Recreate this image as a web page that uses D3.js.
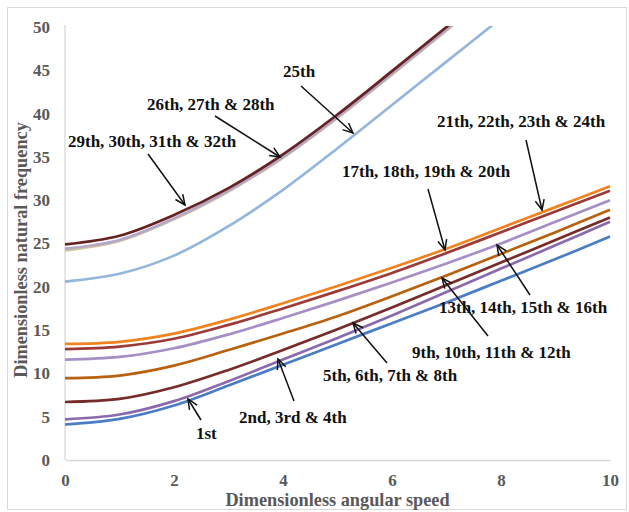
<!DOCTYPE html>
<html><head><meta charset="utf-8">
<script src="https://cdn.jsdelivr.net/npm/d3@7/dist/d3.min.js"></script>
<style>body{margin:0;background:#fff}svg{display:block}</style>
</head><body>
<svg id="c" width="629" height="512"></svg>
<script>
const xs = [0,1,2,3,4,5,6,7,8,9,10];
const xsUp = [0,1,2,3,4,5,6,7,8];
const s1 = [4.1,4.75,6.3,8.6,11.0,13.4,15.8,18.2,20.7,23.2,25.8];
const s2to4 = [4.7,5.25,6.8,9.1,11.6,14.1,16.7,19.4,22.1,24.8,27.5];
const s5to8 = [6.7,7.05,8.4,10.4,12.7,15.1,17.6,20.2,22.8,25.4,28.0];
const s9to12 = [9.45,9.75,10.9,12.7,14.6,16.6,18.9,21.3,23.8,26.3,28.9];
const s13to16 = [11.6,11.9,12.9,14.5,16.4,18.4,20.5,22.7,25.0,27.5,30.0];
const s17to20 = [12.8,13.1,14.0,15.6,17.5,19.5,21.6,23.9,26.3,28.7,31.1];
const s21to24 = [13.4,13.65,14.6,16.2,18.1,20.1,22.2,24.4,26.8,29.2,31.6];
const s25 = [20.6,21.5,23.6,27.0,31.2,36.0,41.0,46.0,51.0];
const s26to28 = [24.4,25.4,27.9,31.1,35.0,39.6,44.6,49.7,54.9];
const s26olive = [24.2,25.3,27.8,31.0,34.9,39.5,44.5,49.6,54.8];
const s29to32 = [24.9,25.9,28.3,31.4,35.3,39.9,44.9,50.0,55.2];
const xTicks = [0,2,4,6,8,10];
const yTicks = [0,5,10,15,20,25,30,35,40,45,50];
const series = [
  {x: xs, y: s1, c: "#4a7dc4"},
  {x: xs, y: s2to4, c: "#8a6aad"},
  {x: xs, y: s5to8, c: "#772c2a"},
  {x: xs, y: s9to12, c: "#b8620f"},
  {x: xs, y: s13to16, c: "#a58fc6"},
  {x: xs, y: s17to20, c: "#9c3a38"},
  {x: xs, y: s21to24, c: "#f0831f"},
  {x: xsUp, y: s25, c: "#95b6dc"},
  {x: xsUp, y: s26olive, c: "#cfc79a"},
  {x: xsUp, y: s26to28, c: "#b6a6c9"},
  {x: xsUp, y: s29to32, c: "#662222"}
];
const notes = [
  {t:"25th", tx:283, ty:77, a:[301,86], b:[353,133]},
  {t:"26th, 27th & 28th", tx:147, ty:110, a:[215,116], b:[280,157]},
  {t:"29th, 30th, 31th & 32th", tx:68, ty:147, a:[148,154], b:[185,205]},
  {t:"21th, 22th, 23th & 24th", tx:437, ty:127, a:[526,140], b:[542,210]},
  {t:"17th, 18th, 19th & 20th", tx:342, ty:177, a:[428,189], b:[445,250]},
  {t:"13th, 14th, 15th & 16th", tx:439, ty:313, a:[530,295], b:[497,245]},
  {t:"9th, 10th, 11th & 12th", tx:412, ty:358, a:[488,336], b:[442,278]},
  {t:"5th, 6th, 7th & 8th", tx:323, ty:381, a:[387,363], b:[353,323]},
  {t:"2nd, 3rd & 4th", tx:239, ty:423, a:[294,401], b:[278,359]},
  {t:"1st", tx:196, ty:439, a:[201,420], b:[188,399]}
];

const svg = d3.select("#c");
const L = 65, R = 610, T = 27, B = 460;
const x = d3.scaleLinear().domain([0,10]).range([L,R]);
const y = d3.scaleLinear().domain([0,50]).range([B,T]);
const serif = "'Liberation Serif','Times New Roman',serif";

svg.append("rect").attr("x",7.5).attr("y",7.5).attr("width",619).attr("height",502)
  .attr("fill","#fff").attr("stroke","#d9d9d9");

svg.append("defs").append("clipPath").attr("id","pa").append("rect")
  .attr("x",L).attr("y",T-1).attr("width",R-L+4).attr("height",B-T+1);

// axes
const xa = svg.append("g").attr("transform",`translate(0,${B})`)
  .call(d3.axisBottom(x).tickValues(xTicks).tickSize(0).tickPadding(15).tickFormat(d3.format("d")));
const ya = svg.append("g").attr("transform",`translate(${L},0)`)
  .call(d3.axisLeft(y).tickValues(yTicks).tickSize(0).tickPadding(15).tickFormat(d3.format("d")));
[xa,ya].forEach(g=>{
  g.select(".domain").attr("stroke","#d9d9d9").attr("stroke-width",1.3);
  g.selectAll("text").attr("font-family",serif).attr("font-weight","bold")
   .attr("font-size",17).attr("fill","#595959");
});
xa.selectAll("text").attr("dy","0.62em");
ya.select(".domain").attr("d",`M0,${T-2}V${B}`);

// lines
const line = d3.line().curve(d3.curveCatmullRom.alpha(0.5));
const lg = svg.append("g").attr("clip-path","url(#pa)");
series.forEach(s=>{
  lg.append("path").attr("fill","none").attr("stroke",s.c).attr("stroke-width",2.7)
    .attr("d", line(s.x.map((v,i)=>[x(v), y(s.y[i])])));
});

// axis titles
svg.append("text").attr("x",(L+R)/2).attr("y",506).attr("text-anchor","middle")
  .attr("font-family",serif).attr("font-weight","bold").attr("font-size",18.3).attr("fill","#595959")
  .text("Dimensionless angular speed");
svg.append("text").attr("transform",`translate(27,250) rotate(-90)`).attr("text-anchor","middle")
  .attr("font-family",serif).attr("font-weight","bold").attr("font-size",18.3).attr("fill","#595959")
  .text("Dimensionless natural frequency");

// annotations
const ag = svg.append("g");
notes.forEach(n=>{
  ag.append("text").attr("x",n.tx).attr("y",n.ty).attr("font-family",serif)
    .attr("font-weight","bold").attr("font-size",17).attr("fill","#111").text(n.t);
  const [x1,y1]=n.a, [x2,y2]=n.b;
  ag.append("line").attr("x1",x1).attr("y1",y1).attr("x2",x2).attr("y2",y2)
    .attr("stroke","#111").attr("stroke-width",1.5);
  const ang = Math.atan2(y2-y1,x2-x1), h=11, w=0.42;
  const p1=[x2-h*Math.cos(ang-w), y2-h*Math.sin(ang-w)];
  const p2=[x2-h*Math.cos(ang+w), y2-h*Math.sin(ang+w)];
  ag.append("path").attr("d",`M${p1}L${x2},${y2}L${p2}`).attr("fill","none")
    .attr("stroke","#111").attr("stroke-width",1.5);
});
</script>
</body></html>
